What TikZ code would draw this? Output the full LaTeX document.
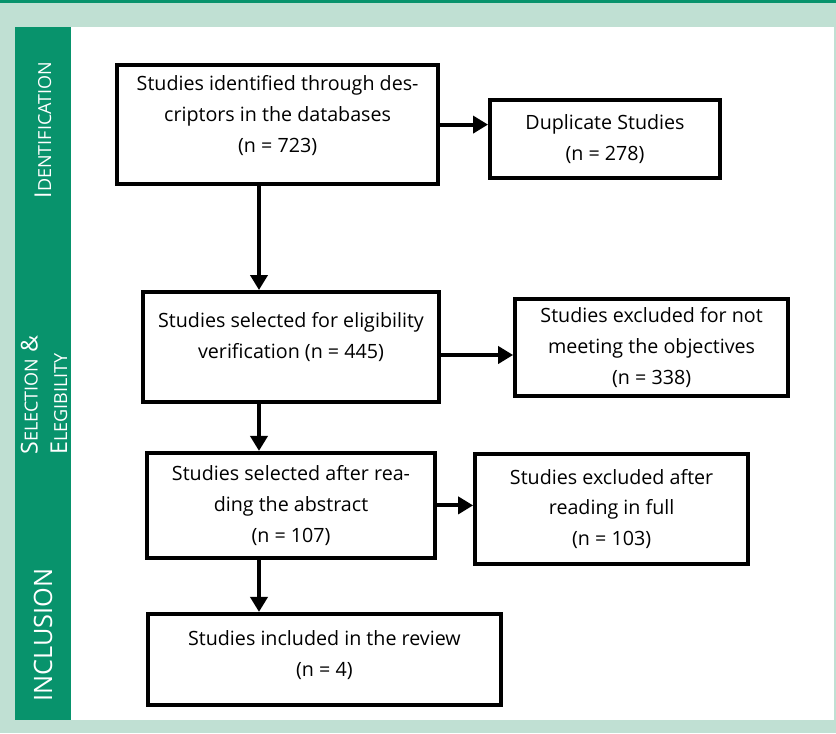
\documentclass[tikz,border=0pt]{standalone}
\usepackage{fontspec}
\setmainfont{Open Sans}
\usetikzlibrary{arrows.meta}

\definecolor{sidegreen}{HTML}{08936C}
\definecolor{palegreen}{HTML}{C0E0D3}

\newcommand{\capfirst}[2]{{\fontsize{16.5}{21}\selectfont #1}{\fontsize{12.8}{21}\selectfont #2}}

\tikzset{
    stagebox/.style={draw, line width=2.8pt, fill=white},
    stagetext/.style={align=center, font=\fontsize{14}{22}\selectfont},
    sidetext/.style={rotate=90, text=white, align=left, font=\fontsize{16.5}{21}\selectfont},
}

\begin{document}
\begin{tikzpicture}
                % background and side band
                \fill [palegreen] (0,0) rectangle (20.9,18.325);
                \fill [sidegreen] (0,18.25) rectangle (20.9,18.325);
                \fill [white] (1.775,0.325) rectangle (20.85,17.65);
                \fill [sidegreen] (0.375,0.325) rectangle (1.775,17.65);

                \node (ident) at (6.94,15.21) [minimum width=8.025cm,minimum height=2.975cm,stagebox] {};
                \node (dup) at (15.125,14.85) [minimum width=5.75cm,minimum height=1.95cm,stagebox] {};
                \node (select) at (7.275,9.65) [minimum width=7.4cm,minimum height=2.75cm,stagebox] {};
                \node (exobj) at (16.29,9.64) [minimum width=6.825cm,minimum height=2.425cm,stagebox] {};
                \node (abstr) at (7.275,5.69) [minimum width=7.2cm,minimum height=2.625cm,stagebox] {};
                \node (exfull) at (15.29,5.6) [minimum width=6.825cm,minimum height=2.75cm,stagebox] {};
                \node (incl) at (8.11,1.84) [minimum width=8.825cm,minimum height=2.275cm,stagebox] {};

                \coordinate (spine) at (6.475,0);
                \path [->,>={Triangle[length=3.75mm,width=4.25mm]},line width=2.8pt]
                    (ident.south -| spine) edge (select.north -| spine)
                    (select.south -| spine) edge (abstr.north -| spine)
                    (abstr.south -| spine) edge (incl.north -| spine)
                    (ident.east) edge (ident.east -| dup.west)
                    ([yshift=-0.2cm]select.east) edge ([yshift=-0.2cm]select.east -| exobj.west)
                    (abstr.east) edge (abstr.east -| exfull.west)
                ;

                \node (identtxt) [stagetext] at ([yshift=0.225cm]ident) {Studies identified through des-\\criptors in the databases\\(n = 723)};
                \node (duptxt) [stagetext] at (dup) {Duplicate Studies\\(n = 278)};
                \node (selecttxt) [stagetext] at ([yshift=0.25cm]select) {Studies selected for eligibility\\verification (n = 445)};
                \node (exobjtxt) [stagetext] at (exobj) {Studies excluded for not\\meeting the objectives\\(n = 338)};
                \node (abstrtxt) [stagetext] at (abstr) {Studies selected after rea-\\ding the abstract\\(n = 107)};
                \node (exfulltxt) [stagetext] at (exfull) {Studies excluded after\\reading in full\\(n = 103)};
                \node (incltxt) [stagetext] at ([yshift=0.1cm]incl) {Studies included in the review\\(n = 4)};

                % side band labels
                \node (identside) [sidetext] at (1.075,15.075) {\capfirst{I}{DENTIFICATION}};
                \node (selectside) [sidetext] at (1.1,8.45) {\capfirst{S}{ELECTION} \&\\\capfirst{E}{LEGIBILITY}};
                \node (inclside) [sidetext, font=\fontsize{18}{21}\selectfont] at (1.075,2.45) {INCLUSION};
\end{tikzpicture}
\end{document}
